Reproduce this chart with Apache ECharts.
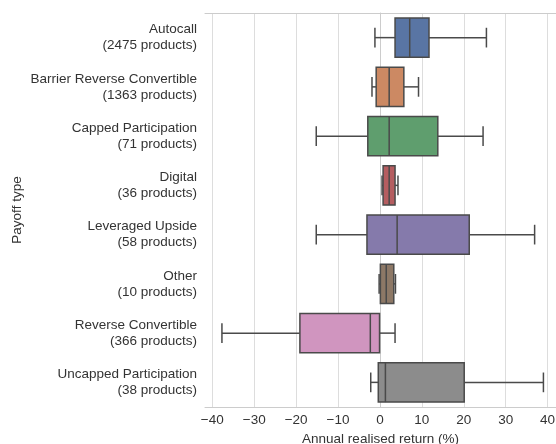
<!DOCTYPE html>
<html>
<head>
<meta charset="utf-8">
<script src="https://cdn.jsdelivr.net/npm/echarts@6/dist/echarts.min.js"></script>
<style>html,body{margin:0;padding:0;background:#fff;}#c{width:556px;height:444px;}</style>
</head>
<body>
<div id="c"></div>
<script>
const categories = ['Autocall','Barrier Reverse Convertible','Capped Participation','Digital','Leveraged Upside','Other','Reverse Convertible','Uncapped Participation'];
const counts = [2475,1363,71,36,58,10,366,38];
const whiskerLow = [-1.2,-1.9,-15.2,0.5,-15.2,-0.2,-37.7,-2.2];
const q1 = [3.6,-0.9,-2.9,0.75,-3.1,0.1,-19.1,-0.4];
const median = [7.1,2.2,2.2,2.2,4.1,1.5,-2.3,1.3];
const q3 = [11.7,5.7,13.8,3.6,21.3,3.3,-0.1,20.1];
const whiskerHigh = [25.4,9.2,24.6,4.3,36.9,3.7,3.6,39.0];
const colors = ['#5975a4','#cc8963','#5f9e6e','#b55d60','#857aab','#8d7866','#d095bf','#8c8c8c'];

const labels = categories.map((c,i)=>c+'\n('+counts[i]+' products)');
const data = categories.map((c,i)=>[i, whiskerLow[i], q1[i], median[i], q3[i], whiskerHigh[i]]);

const edge = '#4a4a4a';
const lw = 1.5;
const font = 'Liberation Sans, Arial, sans-serif';

const chart = echarts.init(document.getElementById('c'), null, {renderer:'canvas'});
chart.setOption({
  animation:false,
  backgroundColor:'#fff',
  grid:{left:205, right:0, top:13, bottom:37, containLabel:false, outerBoundsMode:'none'},
  xAxis:[{
    type:'value', min:-41.74, max:42, splitNumber:8,
    name:'Annual realised return (%)', nameLocation:'middle', nameGap:23,
    nameTextStyle:{fontSize:13.5, color:'#333', fontFamily:font},
    axisLine:{show:true, lineStyle:{color:'#cccccc', width:1}},
    axisTick:{show:false},
    axisLabel:{margin:6, fontSize:13.5, color:'#333', fontFamily:font, showMinLabel:false, showMaxLabel:false,
      formatter:v=> (Math.abs(v%10)<1e-9 ? String(v).replace('-','\u2212') : '')},
    splitLine:{show:true, showMinLine:false, showMaxLine:false, lineStyle:{color:'#dddddd', width:1}}
  },{
    type:'value', min:-41.74, max:42, position:'top',
    axisLine:{show:true, lineStyle:{color:'#cccccc', width:1}},
    axisTick:{show:false}, axisLabel:{show:false}, splitLine:{show:false}
  }],
  yAxis:{
    type:'category', data:labels, inverse:true,
    name:'Payoff type', nameLocation:'middle', nameGap:181, nameRotate:90, nameMoveOverlap:false,
    nameTextStyle:{fontSize:13.5, color:'#333', fontFamily:font},
    axisLine:{show:true, lineStyle:{color:'#cccccc', width:1}},
    axisTick:{show:false},
    axisLabel:{margin:8, fontSize:13.5, lineHeight:16, color:'#333', fontFamily:font, align:'right'},
    splitLine:{show:false}
  },
  series:[{
    type:'custom',
    data:data,
    encode:{x:[1,2,3,4,5], y:0},
    renderItem:function(params, api){
      const idx = api.value(0);
      const pL = api.coord([api.value(1), idx]);
      const p1 = api.coord([api.value(2), idx]);
      const pM = api.coord([api.value(3), idx]);
      const p3 = api.coord([api.value(4), idx]);
      const pH = api.coord([api.value(5), idx]);
      const band = api.size([0,1])[1];
      const h = band*0.8;
      const cap = h*0.5;
      const y = pL[1];
      const ls = {stroke:edge, lineWidth:lw, fill:null};
      return {type:'group', children:[
        {type:'line', shape:{x1:pL[0], y1:y, x2:p1[0], y2:y}, style:ls},
        {type:'line', shape:{x1:p3[0], y1:y, x2:pH[0], y2:y}, style:ls},
        {type:'line', shape:{x1:pL[0], y1:y-cap/2, x2:pL[0], y2:y+cap/2}, style:ls},
        {type:'line', shape:{x1:pH[0], y1:y-cap/2, x2:pH[0], y2:y+cap/2}, style:ls},
        {type:'rect', shape:{x:p1[0], y:y-h/2, width:p3[0]-p1[0], height:h}, style:{fill:colors[idx], stroke:edge, lineWidth:lw}},
        {type:'line', shape:{x1:pM[0], y1:y-h/2, x2:pM[0], y2:y+h/2}, style:ls}
      ]};
    }
  }]
});
</script>
</body>
</html>
